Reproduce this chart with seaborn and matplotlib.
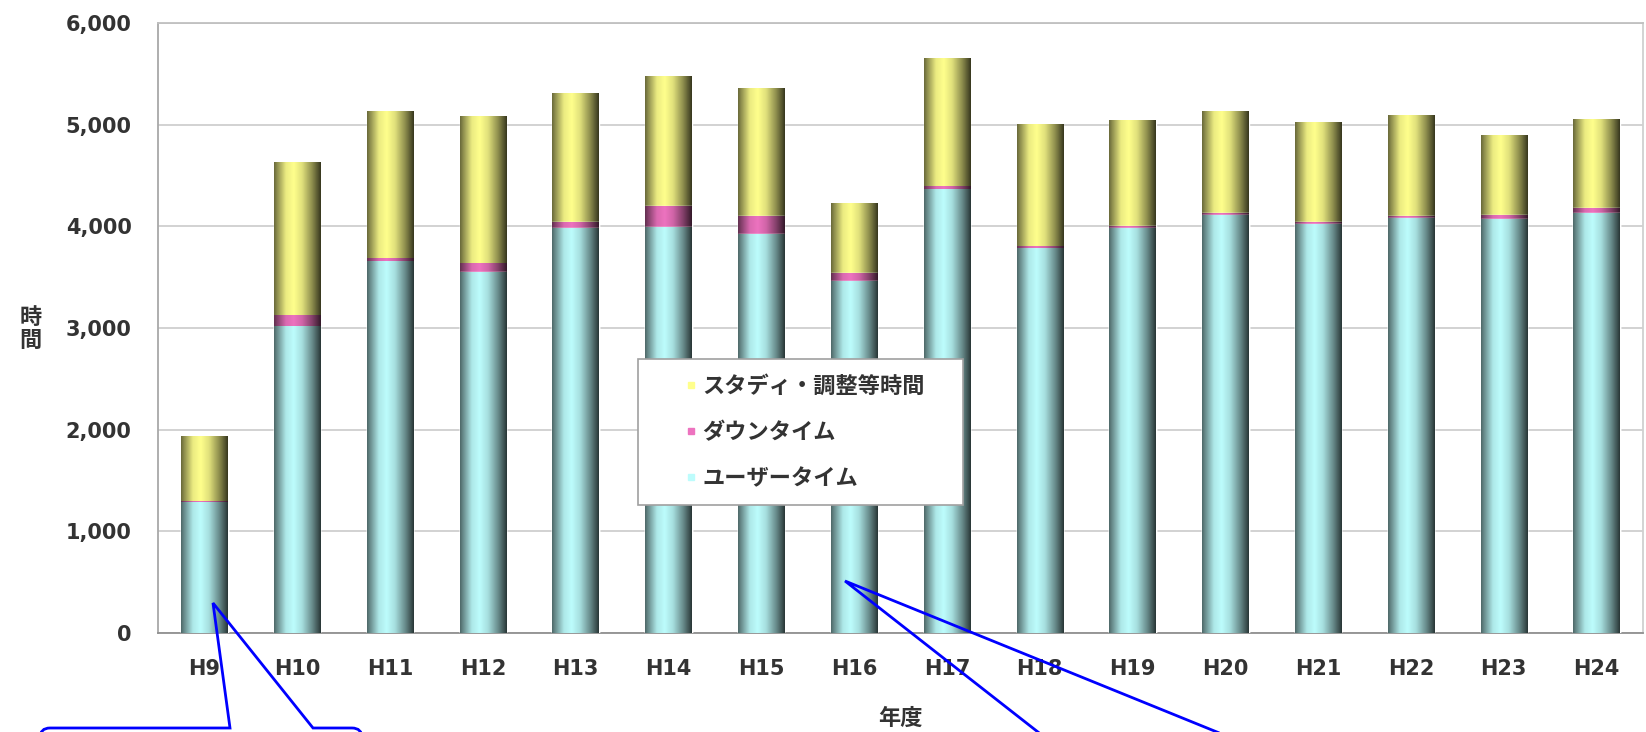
import numpy as np
import pandas as pd
import matplotlib
matplotlib.use("Agg")
import matplotlib.pyplot as plt
from matplotlib.lines import Line2D
from matplotlib.path import Path
from matplotlib.patches import PathPatch
import seaborn as sns

# 年度ごとの運転時間内訳（時間）
years = ["H9", "H10", "H11", "H12", "H13", "H14", "H15", "H16",
         "H17", "H18", "H19", "H20", "H21", "H22", "H23", "H24"]
user_time = [1280, 3010, 3650, 3550, 3980, 3990, 3920, 3460,
             4360, 3780, 3980, 4110, 4020, 4080, 4070, 4130]
down_time = [10, 110, 30, 80, 60, 210, 180, 80,
             30, 20, 20, 20, 20, 20, 40, 50]
study_time = [640, 1510, 1450, 1450, 1270, 1270, 1260, 680,
              1260, 1200, 1040, 1000, 980, 990, 780, 870]

series_labels = ["スタディ・調整等時間", "ダウンタイム", "ユーザータイム"]
series_colors = [(1.0, 1.0, 0.55), (0.93, 0.45, 0.75), (0.74, 0.99, 0.99)]
y_ticks = [0, 1000, 2000, 3000, 4000, 5000, 6000]

df = pd.DataFrame({"年度": years, "user": user_time,
                   "down": down_time, "study": study_time})
df["user_down"] = df["user"] + df["down"]
df["total"] = df["user_down"] + df["study"]

sns.set_theme(style="white")
plt.rcParams["font.family"] = ["DejaVu Sans", "Noto Sans CJK JP"]
plt.rcParams["font.weight"] = "bold"
plt.rcParams["axes.labelweight"] = "bold"

W, H = 1646, 732
fig = plt.figure(figsize=(W / 100, H / 100), dpi=100)
ax = fig.add_axes([158 / W, 1 - 633 / H, (1643 - 158) / W, (633 - 23) / H])

# stacked bars: cumulative totals drawn back to front
layers = [("total", series_colors[0]), ("user_down", series_colors[1]), ("user", series_colors[2])]
for i, (col, color) in enumerate(layers):
    sns.barplot(data=df, x="年度", y=col, color=color, saturation=1,
                width=0.5, errorbar=None, ax=ax, zorder=2 + 2 * i)

# cylinder-like shading across each bar
t = np.linspace(0, 1, 64)
shade = np.interp(t, [0, 0.06, 0.25, 0.42, 0.6, 0.82, 0.95, 1.0],
                  [0.42, 0.55, 0.92, 1.0, 0.88, 0.55, 0.32, 0.22])
n = len(years)
for i, (col, color) in enumerate(layers):
    for p in ax.patches[i * n:(i + 1) * n]:
        x0, y0 = p.get_x(), p.get_y()
        w, h = p.get_width(), p.get_height()
        rgb = np.clip(np.array(color)[None, :] * shade[:, None], 0, 1)
        img = rgb[None, :, :]
        ax.imshow(img, extent=[x0, x0 + w, y0, y0 + h], aspect="auto",
                  interpolation="bilinear", zorder=p.get_zorder() + 0.5)

ax.set_xlim(-0.5, n - 0.5)
ax.set_ylim(0, 6000)
ax.set_yticks(y_ticks)
ax.set_yticklabels([f"{v:,}" for v in y_ticks])
ax.yaxis.grid(True, color="#cfcfcf", linewidth=1.3, zorder=0)
ax.set_axisbelow(True)
ax.tick_params(axis="y", length=0, pad=19, labelsize=15, labelcolor="#333333")
ax.tick_params(axis="x", length=0, pad=19, labelsize=15, labelcolor="#333333")

for side, c in [("left", "#a8a8a8"), ("bottom", "#909090"), ("top", "#c0c0c0"), ("right", "#d0d0d0")]:
    ax.spines[side].set_visible(True)
    ax.spines[side].set_color(c)
    ax.spines[side].set_linewidth(1.3)

ax.set_xlabel("年度", fontsize=16, color="#333333", labelpad=20, fontweight="bold")
ax.set_ylabel("時\n間", fontsize=16, color="#333333", rotation=0, va="center",
              fontweight="bold")
ax.yaxis.set_label_coords(-0.086, 0.498)

handles = [Line2D([], [], linestyle="none", marker="s", markersize=5,
                  markerfacecolor=c, markeredgecolor=c) for c in series_colors]
leg = ax.legend(handles, series_labels, loc="upper left",
                bbox_to_anchor=(0.323, 0.249, 0.219, 0.2), mode="expand",
                borderaxespad=0, frameon=True, fancybox=False, framealpha=1,
                prop={"size": 16, "weight": "bold"},
                handlelength=3.4, handletextpad=-1.2, labelspacing=1.15, borderpad=0.7,
                numpoints=1)
leg.get_frame().set_edgecolor("#a0a0a0")
leg.get_frame().set_facecolor("white")
leg.get_frame().set_linewidth(1.2)
leg.set_zorder(20)
for txt in leg.get_texts():
    txt.set_color("#333333")


def px(x, y):
    return (x / W, 1 - y / H)


# blue callout outlines along the lower edge
r = 10
verts1 = [px(40, 770), px(40, 728 + r), px(40, 728), px(40 + r, 728), px(230, 728),
          px(213, 603), px(313, 728), px(362 - r, 728), px(362, 728), px(362, 728 + r),
          px(362, 770)]
codes1 = [Path.MOVETO, Path.LINETO, Path.CURVE3, Path.CURVE3, Path.LINETO,
          Path.LINETO, Path.LINETO, Path.LINETO, Path.CURVE3, Path.CURVE3, Path.LINETO]
fig.add_artist(PathPatch(Path(verts1, codes1), transform=fig.transFigure,
                         facecolor="none", edgecolor="#0000ff", linewidth=2, zorder=30))
verts2 = [px(1052, 743), px(845, 581), px(1244, 743)]
codes2 = [Path.MOVETO, Path.LINETO, Path.LINETO]
fig.add_artist(PathPatch(Path(verts2, codes2), transform=fig.transFigure,
                         facecolor="none", edgecolor="#0000ff", linewidth=2, zorder=30))

fig.savefig("out.png", dpi=100)
